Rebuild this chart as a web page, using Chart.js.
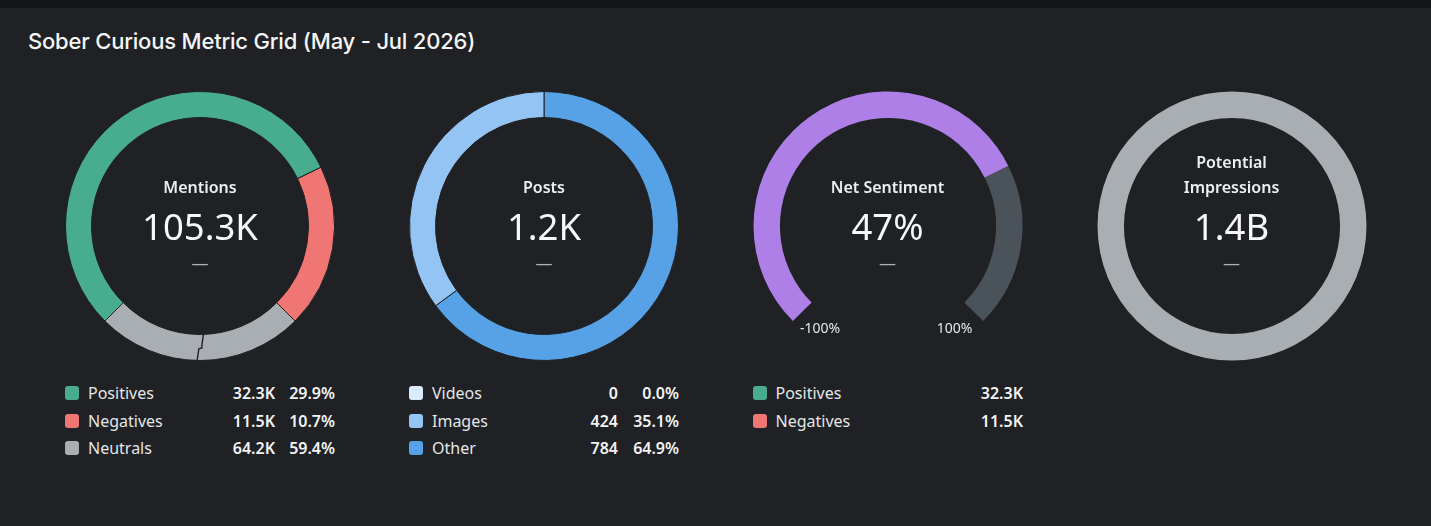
<!DOCTYPE html>
<html>
<head>
<meta charset="utf-8">
<script src="https://cdn.jsdelivr.net/npm/chart.js@4.4.1/dist/chart.umd.min.js"></script>
<style>
  html,body{margin:0;padding:0;}
  body{width:1431px;height:526px;background:#1f2124;position:relative;overflow:hidden;font-family:"Noto Sans","Open Sans",sans-serif;color:#f2f3f4;}
  #topbar{position:absolute;left:0;top:0;width:1431px;height:8px;background:#131619;}
  #title{position:absolute;left:28px;top:41px;transform:translateY(-50%);font-family:Inter,"Noto Sans",sans-serif;font-weight:500;font-size:22px;color:#f4f5f6;white-space:nowrap;letter-spacing:-0.2px;}
  .cv{position:absolute;width:280px;height:280px;}
  .ct{position:absolute;transform:translate(-50%,-50%);white-space:nowrap;text-align:center;}
  .lbl{font-size:16px;font-weight:600;color:#eceef0;}
  .val{font-size:36.5px;font-weight:400;color:#f7f8f9;}
  .dash{font-size:17px;color:#aeb2b6;}
  .gl{font-size:14px;color:#e4e6e8;}
  .leg{position:absolute;font-size:16px;color:#e4e6e8;}
  .row{position:absolute;height:20px;white-space:nowrap;}
  .sw{position:absolute;left:0;top:3px;width:14px;height:14px;border-radius:3px;}
  .nm{position:absolute;top:50%;transform:translateY(-50%);}
  .num{position:absolute;top:50%;transform:translate(-100%,-50%);font-weight:600;color:#f2f3f4;}
</style>
</head>
<body>
<div id="topbar"></div>
<div id="title">Sober Curious Metric Grid (May - Jul 2026)</div>

<canvas id="c1" class="cv" width="280" height="280"></canvas>
<canvas id="c2" class="cv" width="280" height="280"></canvas>
<canvas id="c3" class="cv" width="280" height="280"></canvas>
<canvas id="c4" class="cv" width="280" height="280"></canvas>

<div id="overlay"></div>

<script>
// ---------- DATA ----------
const mentionLabels = ['Positives', 'Negatives', 'Neutrals'];
const mentionValues = [32.3, 11.5, 64.2];            // thousands
const mentionText   = ['32.3K', '11.5K', '64.2K'];
const mentionPct    = ['29.9%', '10.7%', '59.4%'];
const mentionTotal  = '105.3K';

const postLabels = ['Videos', 'Images', 'Other'];
const postValues = [0, 424, 784];
const postText   = ['0', '424', '784'];
const postPct    = ['0.0%', '35.1%', '64.9%'];
const postTotal  = '1.2K';

const sentimentValue = 47;          // percent
const sentimentRange = [-100, 100];
const sentimentTicks = ['-100%', '100%'];
const sentimentLabels = ['Positives', 'Negatives'];
const sentimentText   = ['32.3K', '11.5K'];

const impressionsTotal = '1.4B';

const cardTitles = ['Mentions', 'Posts', 'Net Sentiment', 'Potential\nImpressions'];
const cardValues = [mentionTotal, postTotal, sentimentValue + '%', impressionsTotal];

// ---------- STYLE ----------
const BG = '#1f2124';
const GREEN = '#48ad8c', RED = '#ef7672', GREY = '#a9aeb3';
const VID = '#d8eafc', IMG = '#93c4f4', OTH = '#57a2e6';
const PURPLE = '#ae7fe6', GAUGE_REST = '#4a535a';
const centers = [200, 544, 887.5, 1231.5];
const CY = 225.5;
const R_OUT = 134.5, R_IN = 112.5;

['c1','c2','c3','c4'].forEach((id, i) => {
  const el = document.getElementById(id);
  el.style.left = (centers[i] - 140) + 'px';
  el.style.top = (CY - 140) + 'px';
});

const base = {
  responsive: false,
  animation: false,
  events: [],
  layout: { padding: 0 },
  plugins: { legend: { display: false }, tooltip: { enabled: false } },
  radius: R_OUT,
  cutout: R_IN
};

// Axis-break zigzag on the compressed Neutrals slice
const breakPlugin = {
  id: 'breakMark',
  afterDatasetsDraw(chart) {
    const arc = chart.getDatasetMeta(0).data[2];
    if (!arc) return;
    const { x, y, startAngle, endAngle, innerRadius, outerRadius } = arc.getProps(['x','y','startAngle','endAngle','innerRadius','outerRadius']);
    const a = (startAngle + endAngle) / 2;
    const rx = Math.cos(a), ry = Math.sin(a);
    const tx = -ry, ty = rx;
    const w = outerRadius - innerRadius;
    const pts = [
      [outerRadius + 1, 3], [innerRadius + w * 0.55, 1.2],
      [innerRadius + w * 0.52, -1.8], [innerRadius + w * 0.45, -1.8],
      [innerRadius - 1, -3.5]
    ];
    const ctx = chart.ctx;
    ctx.save();
    ctx.strokeStyle = BG;
    ctx.lineWidth = 1.4;
    ctx.beginPath();
    pts.forEach(([r, t], k) => {
      const px = x + rx * r + tx * t, py = y + ry * r + ty * t;
      k ? ctx.lineTo(px, py) : ctx.moveTo(px, py);
    });
    ctx.stroke();
    ctx.restore();
  }
};

// Mentions: Positives and Negatives to scale; Neutrals shown compressed (axis break) to a quarter of the ring
const shownNeutral = (mentionValues[0] + mentionValues[1]) / 3;
new Chart(document.getElementById('c1'), {
  type: 'doughnut',
  data: {
    labels: mentionLabels,
    datasets: [{
      data: [mentionValues[0], mentionValues[1], shownNeutral],
      backgroundColor: [GREEN, RED, GREY],
      borderColor: BG, borderWidth: 1
    }]
  },
  options: Object.assign({}, base, { rotation: -135 }),
  plugins: [breakPlugin]
});

// Posts
new Chart(document.getElementById('c2'), {
  type: 'doughnut',
  data: {
    labels: postLabels.slice().reverse(),
    datasets: [{
      data: postValues.slice().reverse(),
      backgroundColor: [OTH, IMG, VID],
      borderColor: BG, borderWidth: 1
    }]
  },
  options: Object.assign({}, base, { rotation: 0 })
});

// Net Sentiment gauge (270° arc, bottom quarter left empty)
const span = sentimentRange[1] - sentimentRange[0];
new Chart(document.getElementById('c3'), {
  type: 'doughnut',
  data: {
    labels: ['Net', 'Rest', ''],
    datasets: [{
      data: [sentimentValue - sentimentRange[0], sentimentRange[1] - sentimentValue, span / 3],
      backgroundColor: [PURPLE, GAUGE_REST, 'rgba(0,0,0,0)'],
      borderWidth: 0
    }]
  },
  options: Object.assign({}, base, { rotation: -135 })
});

// Potential Impressions
new Chart(document.getElementById('c4'), {
  type: 'doughnut',
  data: {
    labels: ['Impressions'],
    datasets: [{ data: [1], backgroundColor: [GREY], borderWidth: 0 }]
  },
  options: base
});

// ---------- OVERLAY TEXT ----------
const ov = document.getElementById('overlay');
function add(cls, txt, x, y) {
  const d = document.createElement('div');
  d.className = 'ct ' + cls;
  d.textContent = txt;
  d.style.left = x + 'px';
  d.style.top = y + 'px';
  ov.appendChild(d);
  return d;
}
cardTitles.forEach((t, i) => {
  const lines = t.split('\n');
  if (lines.length === 1) add('lbl', lines[0], centers[i], 187);
  else { add('lbl', lines[0], centers[i], 161.5); add('lbl', lines[1], centers[i], 187); }
  add('val', cardValues[i], centers[i], 225.5);
  add('dash', '—', centers[i], 262);
});
add('gl', sentimentTicks[0], 820, 326.5);
add('gl', sentimentTicks[1], 954.5, 326.5);

function legend(x, items, colors, vals, valRight, pcts, pctRight) {
  items.forEach((name, k) => {
    const y = 393 + k * 27.7;
    const row = document.createElement('div');
    row.className = 'row leg';
    row.style.left = x + 'px';
    row.style.top = (y - 10) + 'px';
    row.style.width = '400px';
    row.innerHTML =
      `<div class="sw" style="background:${colors[k]}"></div>` +
      `<div class="nm" style="left:23px">${name}</div>` +
      `<div class="num" style="left:${valRight}px">${vals[k]}</div>` +
      (pcts ? `<div class="num" style="left:${pctRight}px">${pcts[k]}</div>` : '');
    ov.appendChild(row);
  });
}
legend(65, mentionLabels, [GREEN, RED, GREY], mentionText, 275 - 65, mentionPct, 335 - 65);
legend(409, postLabels, [VID, IMG, OTH], postText, 618 - 409, postPct, 679 - 409);
legend(752.5, sentimentLabels, [GREEN, RED], sentimentText, 1023 - 752.5, null, 0);
</script>
</body>
</html>
